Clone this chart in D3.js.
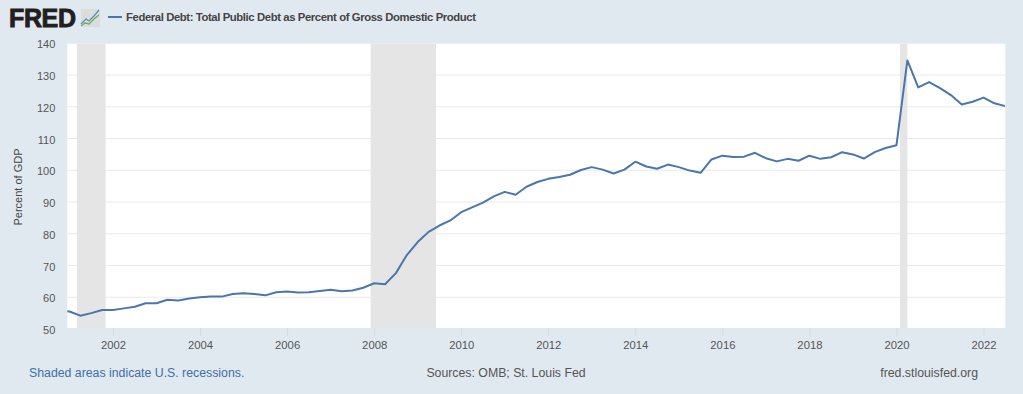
<!DOCTYPE html>
<html><head><meta charset="utf-8">
<script src="https://cdn.jsdelivr.net/npm/d3@7"></script>
<style>html,body{margin:0;padding:0;background:#e1e9f0;overflow:hidden}svg{display:block}text{font-family:"Liberation Sans",Arial,sans-serif}</style>
</head><body><svg id="c" width="1023" height="394"></svg>
<script>
const startYear = 2000.75;
const debt = [56.0,55.5,54.2,55.0,56.0,56.0,56.5,57.0,58.1,58.1,59.2,59.0,59.6,60.0,60.2,60.2,61.0,61.3,61.0,60.6,61.6,61.8,61.5,61.6,62.0,62.4,61.9,62.1,63.0,64.4,64.1,67.6,73.3,77.4,80.6,82.6,84.2,86.8,88.3,89.8,91.8,93.2,92.3,94.8,96.3,97.3,97.9,98.6,100.1,101.0,100.2,99.0,100.2,102.7,101.2,100.5,101.8,101.0,99.9,99.2,103.4,104.6,104.2,104.3,105.5,103.8,102.8,103.6,103.0,104.6,103.6,104.1,105.7,105.0,103.7,105.7,107.0,107.9,134.6,126.1,127.8,125.9,123.7,120.7,121.6,122.9,121.1,120.2];
const recessions = [[2001.17,2001.83],[2007.92,2009.42],[2020.08,2020.25]];
const yTicks = [50,60,70,80,90,100,110,120,130,140];
const xTicks = [2002,2004,2006,2008,2010,2012,2014,2016,2018,2020,2022];
const titleText = "Federal Debt: Total Public Debt as Percent of Gross Domestic Product";
const yLabel = "Percent of GDP";
const footLeft = "Shaded areas indicate U.S. recessions.";
const footMid = "Sources: OMB; St. Louis Fed";
const footRight = "fred.stlouisfed.org";

const svg = d3.select("#c");
const L=67.3,R=1005.3,T=43.5,B=328;
const x = d3.scaleLinear().domain([2000.95,2022.5]).range([L,R]);
const y = d3.scaleLinear().domain([50,140]).range([329,43.3]);

svg.append("rect").attr("width",1023).attr("height",394).attr("fill","#e1e9f0");
svg.append("rect").attr("x",L).attr("y",T).attr("width",R-L).attr("height",B-T).attr("fill","#fff");
svg.append("clipPath").attr("id","pc").append("rect").attr("x",L).attr("y",T).attr("width",R-L).attr("height",B-T);

const plot = svg.append("g").attr("clip-path","url(#pc)");
plot.selectAll(".grid").data(yTicks).join("line").attr("x1",L).attr("x2",R)
  .attr("y1",d=>y(d)).attr("y2",d=>y(d)).attr("stroke","#e9e9e9").attr("stroke-width",1);
plot.selectAll(".rec").data(recessions).join("rect")
  .attr("x",d=>x(d[0])).attr("width",d=>x(d[1])-x(d[0])).attr("y",T).attr("height",B-T).attr("fill","#e5e5e5");
plot.append("path").datum(debt)
  .attr("d",d3.line().x((d,i)=>x(startYear+i*0.25)).y(d=>y(d)))
  .attr("fill","none").attr("stroke","#4a76ab").attr("stroke-width",2).attr("stroke-linejoin","round");

const xAxis = svg.append("g").attr("transform",`translate(0,${B})`)
  .call(d3.axisBottom(x).tickValues(xTicks).tickFormat(d3.format("d")).tickSize(8).tickPadding(5));
xAxis.select(".domain").remove();
xAxis.selectAll("line").attr("stroke","#cfdcec");
xAxis.selectAll("text").attr("fill","#555").attr("font-size",11.3);

const yAxis = svg.append("g").attr("transform",`translate(${L},1)`)
  .call(d3.axisLeft(y).tickValues(yTicks).tickSize(0).tickPadding(12));
yAxis.select(".domain").remove();
yAxis.selectAll("text").attr("fill","#555").attr("font-size",11);

svg.append("text").attr("transform","translate(22,187) rotate(-90)").attr("text-anchor","middle")
  .attr("font-size",11).attr("fill","#444").text(yLabel);

// logo
svg.append("text").attr("x",9).attr("y",26.5).attr("font-size",25).attr("font-weight",700)
  .attr("fill","#231f20").attr("stroke","#231f20").attr("stroke-width",.9).attr("textLength",67).text("FRED");
const ic = svg.append("g").attr("transform","translate(81,9)");
ic.append("rect").attr("width",19).attr("height",18).attr("fill","#d9dedd");
const sparkA=[[0,15],[5,10],[8,12],[13,7],[18,1]], sparkB=[[0,17],[4,14],[8,15],[13,10],[18,6]];
ic.append("path").attr("d",d3.line()(sparkA)).attr("fill","none").attr("stroke","#5f8db5").attr("stroke-width",1.3);
ic.append("path").attr("d",d3.line()(sparkB)).attr("fill","none").attr("stroke","#7ba85a").attr("stroke-width",1.3);

svg.append("line").attr("x1",108).attr("x2",122).attr("y1",17).attr("y2",17).attr("stroke","#4a76ab").attr("stroke-width",2);
svg.append("text").attr("x",126).attr("y",21).attr("font-size",11.3).attr("font-weight",700)
  .attr("fill","#444").attr("textLength",350).text(titleText);

svg.append("text").attr("x",29).attr("y",376.5).attr("font-size",12.3).attr("fill","#3f6fa8").text(footLeft);
svg.append("text").attr("x",506).attr("y",376.5).attr("text-anchor","middle").attr("font-size",12.3).attr("fill","#555").text(footMid);
svg.append("text").attr("x",978).attr("y",376.5).attr("text-anchor","end").attr("font-size",12.3).attr("fill","#555").text(footRight);
</script></body></html>
